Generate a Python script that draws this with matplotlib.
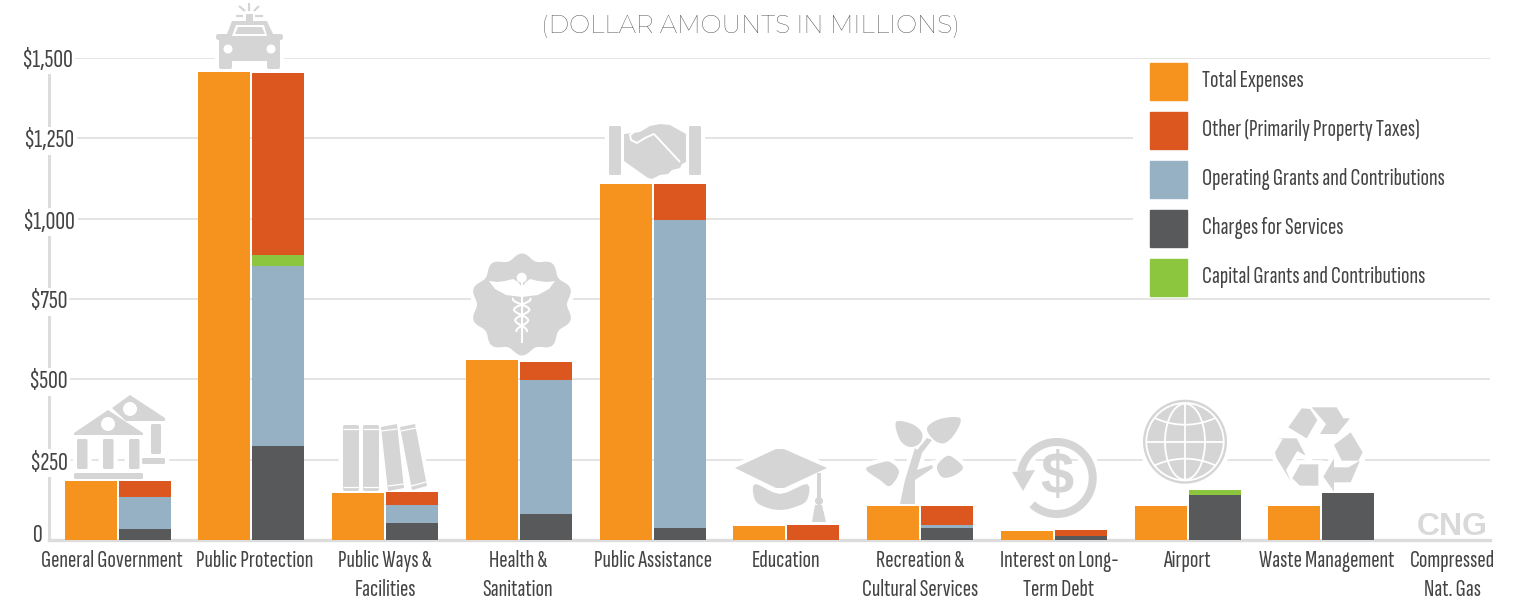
import matplotlib
matplotlib.use("Agg")
import matplotlib.pyplot as plt
import numpy as np
from matplotlib.patches import Patch, Polygon, Circle, Rectangle, FancyBboxPatch
from matplotlib.patches import PathPatch
from matplotlib.transforms import Affine2D

categories = ["General Government", "Public Protection", "Public Ways &\nFacilities",
              "Health &\nSanitation", "Public Assistance", "Education",
              "Recreation &\nCultural Services", "Interest on Long-\nTerm Debt",
              "Airport", "Waste Management", "Compressed\nNat. Gas"]
total_expenses = [184, 1456, 146, 560, 1108, 44, 106, 28, 106, 106, 0]
charges = [34, 292, 53, 81, 37, 0, 37, 12, 140, 146, 0]
operating = [100, 561, 56, 417, 959, 0, 10, 0, 0, 0, 0]
capital = [0, 34, 0, 0, 0, 0, 0, 0, 16, 0, 0]
other = [50, 566, 40, 56, 112, 47, 59, 19, 0, 0, 0]
y_ticks = [0, 250, 500, 750, 1000, 1250, 1500]
y_labels = ["0", "$250", "$500", "$750", "$1,000", "$1,250", "$1,500"]

ORANGE = "#f6921e"
RED = "#dc571f"
BLUE = "#97b1c4"
DARK = "#58595b"
GREEN = "#8cc63f"
ICON = "#d5d5d5"
GRID = "#dcdcdc"
TEXT = "#444444"
NARROW = ["Sofia Sans Extra Condensed", "Liberation Sans"]

W, H = 1524, 599
fig = plt.figure(figsize=(W / 100, H / 100), dpi=100)
# group step is 133.75px, first group centred near 118px
step = 133.75
first = 117.6
left, right = 49, 1490
ax = fig.add_axes([left / W, 1 - 540 / H, (right - left) / W, (540 - 58) / H])
ax.set_xlim((left - first) / step, (right - first) / step)
ax.set_ylim(0, 1500)
ax.set_axisbelow(True)
px = Affine2D().scale(1 / W, -1 / H).translate(0, 1) + fig.transFigure

x = np.arange(len(categories))
bw = 52 / step
off = 27 / step
ax.bar(x - off, total_expenses, bw, color=ORANGE, zorder=3)
bottom = np.zeros(len(x))
for vals, col in [(charges, DARK), (operating, BLUE), (capital, GREEN), (other, RED)]:
    ax.bar(x + off, vals, bw, bottom=bottom, color=col, zorder=3)
    bottom += np.array(vals)

ax.set_yticks(y_ticks)
ax.set_yticklabels([])
ax.grid(axis="y", color=GRID, lw=1.1)
ax.tick_params(length=0)
for s in ["top", "right"]:
    ax.spines[s].set_visible(False)
ax.spines["left"].set_color(GRID)
ax.spines["left"].set_linewidth(2.2)
ax.spines["bottom"].set_color(GRID)
ax.spines["bottom"].set_linewidth(2.4)

ax.set_xticks(x)
ax.set_xticklabels(categories, family=NARROW, fontsize=18, color=TEXT, linespacing=1.43)
ax.tick_params(axis="x", pad=7)
label_shift = [-6, 3, 0, -1, 0, 0, 0, 5, -1, 5, -3]
for lab, dx in zip(ax.get_xticklabels(), label_shift):
    lab.set_transform(lab.get_transform() + Affine2D().translate(dx, 0))

lab_x = [38, 49, 48, 48, 49, 49, 47]
lab_y = [534, 462, 381, 301, 221, 140, 59]
for t, lx, ly in zip(y_labels, lab_x, lab_y):
    ax.text(lx, ly + 1, t, transform=px, ha="center", va="center", family=NARROW, fontsize=19.5,
            color=TEXT, zorder=6, clip_on=False,
            bbox=dict(fc="white", ec="none", pad=1.5))

ax.text(750.5, 26, "(DOLLAR AMOUNTS IN MILLIONS)", transform=px, ha="center", va="center",
        family=["Montserrat", "Lato"], weight="light", fontsize=17.9, color="#484848", clip_on=False)

# legend sits on a white panel that hides the two inner gridlines
ax.add_patch(Rectangle((1133, 62), 357, 236, transform=px, fc="white", ec="none", zorder=1))
handles = [Patch(color=c) for c in [ORANGE, RED, BLUE, DARK, GREEN]]
names = ["Total Expenses", "Other (Primarily Property Taxes)", "Operating Grants and Contributions",
         "Charges for Services", "Capital Grants and Contributions"]
fs = 18
box = 37 / 100 * 72
leg = ax.legend(handles, names, loc="upper left", bbox_to_anchor=(1150 / W, 1 - 63 / H),
                bbox_transform=fig.transFigure, frameon=False, borderpad=0, borderaxespad=0,
                handlelength=box / fs, handleheight=(box / fs - 0.245) / 0.65, handletextpad=15 * 0.72 / fs,
                labelspacing=12 * 0.72 / fs, prop={"family": NARROW, "size": fs}, labelcolor=TEXT)
for t in leg.get_texts():
    t.set_y(2.5)


# icons, drawn in pixel coordinates with a white halo that cuts the gridlines
def add(patch, halo=True):
    if halo:
        h = PathPatch(patch.get_path().transformed(patch.get_patch_transform()),
                      transform=px, fc="white", ec="white", lw=6, zorder=2.0, clip_on=False)
        ax.add_patch(h)
    patch.set(transform=px, fc=ICON, ec="none", zorder=2.1, clip_on=False)
    ax.add_patch(patch)


def poly(pts, halo=True):
    add(Polygon(pts, closed=True), halo)


def rbox(x0, y0, x1, y1, r=1.5):
    add(FancyBboxPatch((x0 + r, y0 + r), x1 - x0 - 2 * r, y1 - y0 - 2 * r,
                       boxstyle=f"round,pad={r}"))


def disc(cx, cy, r):
    add(Circle((cx, cy), r))


def hole(cx, cy, r):
    ax.add_patch(Circle((cx, cy), r, transform=px, fc="white", ec="none", zorder=2.2, clip_on=False))


def stroke(xs, ys, lw, col="white", z=2.2, halo=False):
    if halo:
        ax.plot(xs, ys, transform=px, color="white", lw=lw + 6, zorder=2.0, clip_on=False,
                solid_capstyle="butt")
    ax.plot(xs, ys, transform=px, color=col, lw=lw, zorder=z, clip_on=False, solid_capstyle="butt")


def smooth(pts, n=10):
    # closed Catmull-Rom through the given outline
    p = np.array(pts, float)
    out = []
    for i in range(len(p)):
        a, b, c, d = p[i - 1], p[i], p[(i + 1) % len(p)], p[(i + 2) % len(p)]
        for t in np.linspace(0, 1, n, endpoint=False):
            out.append(0.5 * (2 * b + (c - a) * t + (2 * a - 5 * b + 4 * c - d) * t ** 2
                              + (3 * b - a - 3 * c + d) * t ** 3))
    return out


# government
poly([(112, 408), (130, 395), (165, 418), (165, 421), (126, 421)])
hole(130, 409, 7)
rbox(151, 424, 161, 454)
rbox(142, 458, 165, 464)
poly([(74, 433), (108, 410), (143, 433), (143, 435), (74, 435)])
hole(108, 424, 7)
for cx in (77, 103, 129):
    rbox(cx, 439, cx + 10.5, 469)
rbox(74, 473, 143, 479)

# car
rbox(216, 34, 283, 40, 2.5)
poly([(227, 34), (232, 21), (267, 21), (273, 34)])
rbox(219, 34, 280, 61, 3)
rbox(219, 55, 232, 69, 2)
rbox(267, 55, 280, 69, 2)
poly([(246, 14), (253, 14), (253, 22), (246, 22)])
ax.add_patch(Polygon([(232, 36), (236, 25), (264, 25), (267, 36)], transform=px, fc="white", ec="none",
                     zorder=2.2, clip_on=False))
ax.add_patch(Polygon([(235, 34), (238, 27), (262, 27), (265, 34)], transform=px, fc=ICON, ec="none",
                     zorder=2.3, clip_on=False))
hole(228, 49, 4.5)
hole(271, 49, 4.5)
for a, b in [((249, 3), (249, 11)), ((239, 6), (245, 11)), ((259, 6), (254, 11)),
             ((236, 16), (243, 16)), ((255, 16), (263, 16))]:
    stroke([a[0], b[0]], [a[1], b[1]], 1.6, ICON, 2.1)

# books
rbox(343, 425, 359, 491, 2)
rbox(363, 425, 379, 491, 2)
poly([(381, 427), (397, 424), (404, 488), (388, 491)])
poly([(400, 427), (415, 424), (427, 486), (412, 490)])
for a, b in [((343, 429), (359, 429)), ((363, 429), (379, 429)), ((343, 487), (359, 487)),
             ((363, 487), (379, 487)), ((381, 431), (397, 429)), ((388, 486), (404, 484)),
             ((401, 431), (416, 428)), ((411, 486), (426, 482))]:
    stroke([a[0], b[0]], [a[1], b[1]], 0.9)

# caduceus badge
th = np.linspace(0, 2 * np.pi, 240)
r = 48 + 3 * np.cos(10 * th)
poly(list(zip(522 + r * np.sin(th), 304.5 + r * np.cos(th))))
ax.add_patch(Polygon([(489, 281), (497, 282), (505, 281), (513, 279), (518, 282), (521.7, 287), (526, 282),
                      (530, 279), (538, 281), (547, 282), (555, 281), (549, 289), (538, 295), (522, 297),
                      (506, 295), (495, 289)],
                     transform=px, fc="white", ec="none", zorder=2.2, clip_on=False))
hole(521.7, 277.7, 5)
stroke([521.7, 521.7], [280, 343], 1.5)
yy = np.linspace(298, 332, 60)
stroke(521.7 + 9 * np.sin((yy - 298) / 34 * 3.2 * np.pi + 1.2) * (1 - (yy - 298) / 80), yy, 1.5)
stroke(521.7 - 9 * np.sin((yy - 298) / 34 * 3.2 * np.pi + 1.2) * (1 - (yy - 298) / 80), yy, 1.5)

# handshake
rbox(609, 126, 621, 175)
rbox(689, 126, 701, 175)
poly([(624, 134), (640, 132), (650, 126), (660, 124), (670, 125), (686, 134), (686, 162), (682, 164),
      (680, 168), (672, 170), (668, 174), (660, 175), (652, 179), (648, 178), (624, 161)])
stroke([638, 630, 631, 637, 645, 654, 680], [129, 135, 140, 143, 138, 134, 162], 1.4)

# mortarboard
poly(smooth([(755, 484), (780, 494), (807, 484), (807, 500), (795, 507), (780, 510), (765, 507), (755, 500)], 4))
poly([(735, 468), (776, 449), (784, 449), (827, 468), (784, 488), (776, 488)])
rbox(817, 473, 821, 500, 0.5)
disc(819, 501, 4)
poly([(815, 505), (822, 505), (826, 522), (812, 522)])

# tree
poly([(900, 504), (915, 504), (915, 480), (933, 468), (932, 465), (917, 470), (922, 453), (932, 440),
      (927, 438), (917, 450), (915, 448), (905, 480)])
poly(smooth([(896, 422), (912, 424), (922, 433), (920, 443), (910, 447), (900, 440)], 6))
poly(smooth([(960, 418), (956, 432), (945, 443), (934, 440), (927, 428), (940, 419)], 6))
poly(smooth([(866, 469), (880, 463), (890, 462), (899, 472), (890, 486), (880, 480)], 6))
poly(smooth([(963, 468), (955, 459), (947, 456), (937, 466), (942, 477), (953, 476)], 6))

# dollar circle
ang = np.radians(np.linspace(227, 530, 120))
stroke(1056.7 + 36 * np.cos(ang), 478 - 36 * np.sin(ang), 5.8, ICON, 2.1, halo=True)
poly([(1012, 472), (1035, 470), (1023, 491)])
ax.text(1057, 479, "$", transform=px, ha="center", va="center", family="Liberation Sans",
        weight="bold", fontsize=43, color=ICON, zorder=2.3, parse_math=False, clip_on=False)

# globe
cx, cy = 1185, 441.7
disc(cx, cy, 42)
ax.add_patch(Circle((cx, cy), 38.7, transform=px, fc="none", ec="white", lw=1.3, zorder=2.2, clip_on=False))
th = np.linspace(0, 2 * np.pi, 100)
stroke(cx + 20 * np.cos(th), cy + 38 * np.sin(th), 1.3)
stroke([cx, cx], [cy - 38, cy + 38], 1.3)
stroke([cx - 38, cx + 38], [cy, cy], 1.3)
tt = np.linspace(-1, 1, 30)
for sign in (-1, 1):
    stroke(cx + 31 * tt, cy + sign * (17 + 7 * tt ** 2), 1.3)


# recycle
def rec(z):
    return [(1260 + a / 3, 395 + b / 3) for a, b in z]


poly(rec([(85, 97), (125, 40), (150, 42), (172, 75), (140, 130)]))
poly(rec([(155, 37), (230, 37), (250, 70), (270, 70), (232, 117), (180, 117), (198, 87)]))
poly(rec([(222, 150), (272, 112), (308, 172), (295, 197), (245, 197)]))
poly(rec([(300, 197), (272, 262), (222, 262), (222, 290), (190, 245), (222, 190), (222, 217), (265, 217)]))
poly(rec([(97, 250), (120, 208), (175, 208), (175, 272), (120, 272)]))
poly(rec([(50, 130), (110, 130), (137, 182), (112, 168), (78, 225), (92, 258), (50, 190), (45, 172), (68, 132)]))

ax.text(1452.5, 535, "CNG", transform=px, ha="center", va="baseline", family="Liberation Sans",
        weight="bold", fontsize=23, color="#d9d9d9", clip_on=False)

fig.savefig("out.png", dpi=100)
